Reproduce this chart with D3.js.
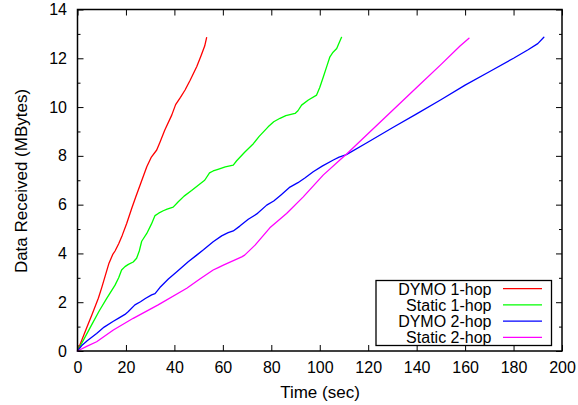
<!DOCTYPE html>
<html>
<head>
<meta charset="utf-8">
<script src="https://cdn.jsdelivr.net/npm/d3@7/dist/d3.min.js"></script>
<style>
  html, body { margin: 0; padding: 0; background: #fff; }
  svg { display: block; font-family: "Liberation Sans", Arial, Helvetica, sans-serif; }
</style>
</head>
<body>
<svg id="chart" width="578" height="405"></svg>
<script>
// Cumulative data received (MBytes) versus elapsed time (sec), per routing setup
const seriesNames = ["DYMO 1-hop", "Static 1-hop", "DYMO 2-hop", "Static 2-hop"];
const seriesColors = ["#ff0000", "#00ff00", "#0000ff", "#ff00ff"];

const dymo1hop = [
  [0,0],[2,0.5],[4,1.0],[6,1.5],[8.6,2.16],[10,2.6],[11.5,3.1],[13,3.6],[14.5,3.95],
  [15.5,4.1],[17,4.4],[18.5,4.75],[20.3,5.23],[22.4,5.85],[24,6.3],[26,6.85],[28.6,7.55],
  [30.5,7.95],[32.7,8.24],[34,8.55],[36,9.05],[38.9,9.67],[40.5,10.1],[42.5,10.4],
  [44.4,10.7],[46.5,11.1],[49.2,11.65],[51,12.1],[52.5,12.5],[53.3,12.85]
];

const static1hop = [
  [0,0],[3,0.55],[6,1.1],[9,1.65],[12,2.15],[15.5,2.7],[17,3.0],[18.2,3.32],[19.6,3.46],
  [21,3.55],[23,3.65],[24.4,3.8],[25.5,4.1],[26.5,4.5],[28.6,4.82],[30.5,5.2],[32,5.55],
  [33.5,5.65],[35.4,5.75],[37,5.82],[39.5,5.9],[41.6,6.12],[44,6.35],[47.1,6.58],
  [50.5,6.85],[52.5,7.0],[54.5,7.3],[56,7.38],[58,7.45],[61,7.55],[64.3,7.62],[65.7,7.8],
  [69,8.15],[72.6,8.5],[75,8.8],[78.7,9.19],[81,9.4],[83.6,9.54],[86,9.65],[89.8,9.74],
  [91,9.85],[92.5,10.08],[95.3,10.29],[98.7,10.49],[100,10.8],[101.5,11.24],[103,11.7],
  [104.2,12.06],[105.5,12.25],[107,12.4],[108.5,12.75],[109,12.86]
];

const dymo2hop = [
  [0,0],[2,0.25],[4,0.42],[7.9,0.72],[11,0.98],[14.8,1.22],[17,1.35],[19.6,1.5],[21,1.62],
  [23.7,1.89],[26,2.02],[28,2.15],[30.6,2.3],[32,2.35],[34,2.6],[37.5,2.95],[41,3.25],
  [45.7,3.66],[49.2,3.93],[52,4.15],[56,4.48],[59.5,4.72],[62.2,4.85],[64.3,4.92],
  [67,5.12],[70.5,5.4],[74,5.62],[78.1,5.98],[81,6.15],[84,6.4],[87.7,6.72],[91,6.9],
  [94,7.1],[97.3,7.35],[101,7.58],[105.6,7.83],[108,7.95],[111,8.05],[120,8.57],
  [130,9.15],[140,9.72],[150,10.3],[160,10.9],[170,11.45],[180,12.0],[186,12.35],
  [190,12.6],[192.5,12.86]
];

const static2hop = [
  [0,0],[4,0.2],[7.9,0.38],[14.8,0.86],[23,1.34],[33.3,1.89],[45.1,2.57],[50.5,2.95],
  [56,3.32],[58.1,3.42],[60.2,3.52],[67.8,3.86],[69,3.93],[73.3,4.34],[79.4,5.05],
  [86.3,5.64],[93.2,6.32],[101.4,7.21],[108.3,7.83],[111.1,8.08],[120,8.92],
  [130,9.86],[140,10.8],[150,11.74],[157.9,12.5],[161.6,12.82]
];

const allSeries = [dymo1hop, static1hop, dymo2hop, static2hop];

const xTicks = [0, 20, 40, 60, 80, 100, 120, 140, 160, 180, 200];
const yTicks = [0, 2, 4, 6, 8, 10, 12, 14];
const yMinorTicks = [1, 3, 5, 7, 9, 11, 13];

const xLabel = "Time (sec)";
const yLabel = "Data Received (MBytes)";

// Plot frame
const plotLeft = 77.5, plotRight = 562, plotTop = 9.5, plotBottom = 351;
const svg = d3.select("#chart");

const x = d3.scaleLinear().domain([0, 200]).range([plotLeft, plotRight]);
const y = d3.scaleLinear().domain([0, 14]).range([plotBottom, plotTop]);

const tickFont = "16px";

// Bottom axis (ticks point inward)
const gx = svg.append("g")
  .attr("transform", `translate(0,${plotBottom})`)
  .call(d3.axisBottom(x).tickValues(xTicks).tickFormat(d3.format("d"))
    .tickSizeInner(-6).tickSizeOuter(0).tickPadding(11));
// Top mirror ticks
const gxt = svg.append("g")
  .attr("transform", `translate(0,${plotTop})`)
  .call(d3.axisTop(x).tickValues(xTicks).tickFormat("")
    .tickSizeInner(-6).tickSizeOuter(0));
// Left axis with labels
const gy = svg.append("g")
  .attr("transform", `translate(${plotLeft},0)`)
  .call(d3.axisLeft(y).tickValues(yTicks).tickFormat(d3.format("d"))
    .tickSizeInner(-6).tickSizeOuter(0).tickPadding(10.5));
const gym = svg.append("g")
  .attr("transform", `translate(${plotLeft},0)`)
  .call(d3.axisLeft(y).tickValues(yMinorTicks).tickFormat("")
    .tickSizeInner(-3).tickSizeOuter(0));
// Right mirror ticks
const gyr = svg.append("g")
  .attr("transform", `translate(${plotRight},0)`)
  .call(d3.axisRight(y).tickValues(yTicks).tickFormat("")
    .tickSizeInner(-6).tickSizeOuter(0));
const gyrm = svg.append("g")
  .attr("transform", `translate(${plotRight},0)`)
  .call(d3.axisRight(y).tickValues(yMinorTicks).tickFormat("")
    .tickSizeInner(-3).tickSizeOuter(0));

[gx, gxt, gy, gym, gyr, gyrm].forEach(g => {
  g.select(".domain").remove();
  g.selectAll(".tick line").attr("stroke", "#000").attr("stroke-width", 1);
  g.selectAll(".tick text")
    .attr("fill", "#000")
    .style("font-size", tickFont)
    .style("font-family", "'Liberation Sans', Arial, sans-serif");
});

// Data lines
const line = d3.line().x(d => x(d[0])).y(d => y(d[1]));
const lines = svg.append("g").attr("fill", "none").attr("stroke-width", 1.3)
  .attr("stroke-linejoin", "round").attr("stroke-linecap", "round");
allSeries.forEach((s, i) => {
  lines.append("path").attr("d", line(s)).attr("stroke", seriesColors[i]);
});

// Border
svg.append("rect")
  .attr("x", plotLeft).attr("y", plotTop)
  .attr("width", plotRight - plotLeft).attr("height", plotBottom - plotTop)
  .attr("fill", "none").attr("stroke", "#000").attr("stroke-width", 1.5);

// Axis titles
svg.append("text")
  .attr("x", 320).attr("y", 397.5)
  .attr("text-anchor", "middle")
  .style("font-size", "17px")
  .text(xLabel);

svg.append("text")
  .attr("transform", "translate(27,181) rotate(-90)")
  .attr("text-anchor", "middle")
  .style("font-size", "17px")
  .text(yLabel);

// Legend
const legend = svg.append("g");
legend.append("rect")
  .attr("x", 376).attr("y", 280.5).attr("width", 175.5).attr("height", 65)
  .attr("fill", "#fff").attr("stroke", "#000").attr("stroke-width", 1.3);

const legendY = d3.scalePoint().domain(seriesNames).range([288.7, 337.3]);
seriesNames.forEach((name, i) => {
  const ly = legendY(name);
  legend.append("text")
    .attr("x", 491.5).attr("y", ly + 6)
    .attr("text-anchor", "end")
    .style("font-size", "16px")
    .text(name);
  legend.append("line")
    .attr("x1", 503).attr("x2", 542)
    .attr("y1", ly).attr("y2", ly)
    .attr("stroke", seriesColors[i]).attr("stroke-width", 1.3);
});
</script>
</body>
</html>
